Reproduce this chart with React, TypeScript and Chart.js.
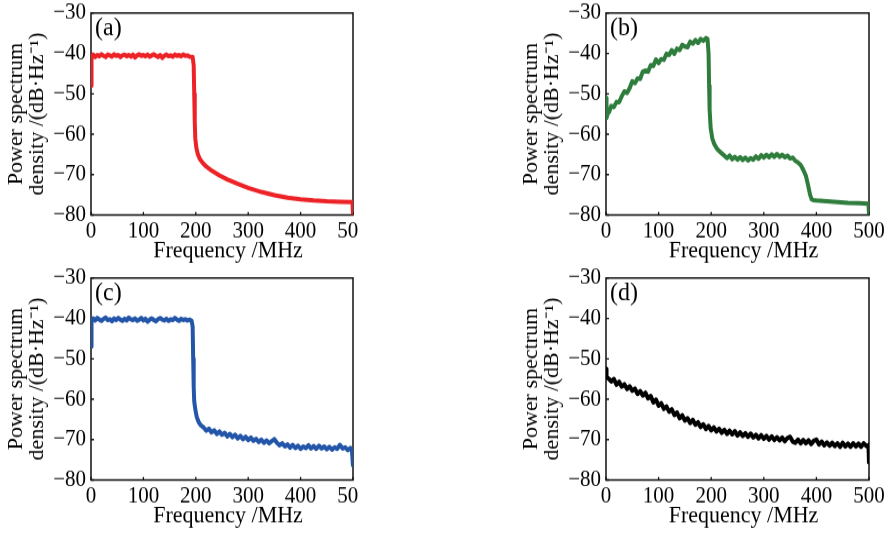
import React, { useEffect, useRef } from "react";
import { Chart, registerables } from "chart.js";

Chart.register(...registerables);

// ---------- data ----------
const X_TICKS = [0, 100, 200, 300, 400, 500];
const Y_TICKS = [-80, -70, -60, -50, -40, -30];
const X_TITLE = "Frequency /MHz";
const Y_TITLE = ["Power spectrum", "density /(dB·Hz⁻¹)"];
const TAGS = ["(a)", "(b)", "(c)", "(d)"];

const aFreq = [0, 1, 4, 8, 12, 16, 20, 24, 28, 32, 36, 40, 44, 48, 52, 56, 60, 64, 68, 72, 76, 80, 84, 88, 92, 96, 100, 104, 108, 112, 116, 120, 124, 128, 132, 136, 140, 144, 148, 152, 156, 160, 164, 168, 172, 176, 180, 184, 188, 192, 194, 196, 197, 198, 199, 201, 204, 208, 213, 220, 230, 245, 260, 280, 300, 325, 350, 375, 400, 425, 450, 475, 499, 500];
const aPsd = [-48, -40.8, -40.3, -40.9, -40.4, -40.7, -40.2, -40.6, -40.9, -40.3, -40.5, -40.8, -40.2, -40.6, -40.4, -40.9, -40.5, -40.3, -40.7, -40.4, -40.8, -40.3, -41.0, -40.5, -40.2, -40.6, -40.4, -40.7, -40.3, -40.8, -40.5, -40.2, -40.6, -40.9, -40.4, -41.1, -40.6, -40.3, -40.7, -40.5, -40.8, -40.3, -40.6, -40.4, -40.7, -40.3, -40.6, -40.5, -40.8, -40.9, -40.9, -43, -50, -57, -61, -63.3, -65, -66.2, -67.1, -68.0, -69.0, -70.2, -71.2, -72.3, -73.3, -74.3, -75.1, -75.7, -76.1, -76.4, -76.6, -76.7, -76.8, -80];

const bFreq = [0, 1, 3, 6, 10, 15, 20, 25, 30, 35, 40, 45, 50, 55, 60, 65, 70, 75, 80, 85, 90, 95, 100, 105, 110, 115, 120, 125, 130, 135, 140, 145, 150, 155, 160, 165, 170, 175, 180, 185, 190, 193, 195, 196, 197, 199, 202, 206, 211, 217, 224, 230, 235, 240, 245, 250, 255, 260, 265, 270, 275, 280, 285, 290, 295, 300, 305, 310, 315, 320, 325, 330, 335, 340, 345, 350, 355, 360, 365, 370, 375, 380, 384, 388, 391, 394, 400, 420, 440, 460, 480, 499, 500];
const bPsd = [-51, -56, -55.0, -54.5, -53.0, -53.3, -52.0, -52.1, -50.6, -49.4, -49.8, -48.6, -46.9, -47.4, -46.2, -46.3, -44.5, -44.2, -44.5, -42.9, -43.1, -41.5, -42.4, -41.4, -41.6, -40.1, -40.4, -39.2, -40.1, -38.8, -39.2, -37.9, -38.3, -38.5, -37.1, -37.6, -36.7, -37.4, -36.4, -36.9, -36.2, -36.4, -40, -48, -54, -58.5, -61, -62.5, -63.6, -64.4, -65.2, -65.9, -65.3, -66.2, -65.6, -66.3, -65.7, -66.4, -65.8, -66.5, -65.9, -66.3, -65.5, -66.1, -65.2, -65.8, -65.1, -65.7, -65.0, -65.6, -64.9, -65.6, -65.1, -65.7, -65.3, -66.0, -65.8, -66.6, -67.0, -67.6, -68.8, -70.3, -72.5, -75.0, -76.1, -76.3, -76.4, -76.6, -76.8, -77.0, -77.1, -77.2, -80];

const cFreq = [0, 1, 4, 8, 12, 16, 20, 24, 28, 32, 36, 40, 44, 48, 52, 56, 60, 64, 68, 72, 76, 80, 84, 88, 92, 96, 100, 104, 108, 112, 116, 120, 124, 128, 132, 136, 140, 144, 148, 152, 156, 160, 164, 168, 172, 176, 180, 184, 188, 192, 194, 195, 196, 197, 199, 202, 206, 210, 215, 220, 225, 230, 235, 240, 245, 250, 255, 260, 265, 270, 275, 280, 285, 290, 295, 300, 305, 310, 315, 320, 325, 330, 335, 340, 345, 350, 355, 360, 365, 370, 375, 380, 385, 390, 395, 400, 405, 410, 415, 420, 425, 430, 435, 440, 445, 450, 455, 460, 465, 470, 475, 480, 485, 490, 495, 498, 500];
const cPsd = [-47, -40.5, -40.0, -40.5, -39.9, -40.3, -40.6, -40.1, -39.8, -40.4, -40.2, -40.7, -40.0, -40.4, -39.9, -40.3, -40.6, -40.1, -40.5, -39.8, -40.2, -40.4, -40.0, -40.6, -40.3, -39.9, -40.5, -40.1, -40.8, -40.3, -40.0, -40.4, -40.7, -40.2, -39.9, -40.3, -40.5, -40.1, -40.6, -40.2, -40.4, -39.9, -40.3, -40.6, -40.1, -40.4, -40.2, -40.5, -40.3, -40.6, -42, -50, -57, -60.5, -62.5, -64.5, -65.8, -66.5, -67.0, -67.8, -67.3, -68.2, -67.7, -68.6, -68.0, -68.8, -68.3, -69.2, -68.6, -69.4, -68.8, -69.7, -69.1, -69.9, -69.3, -70.1, -69.5, -70.3, -69.8, -70.6, -70.0, -70.8, -70.2, -70.9, -70.4, -69.9, -70.8, -71.4, -70.9, -71.7, -71.2, -72.0, -71.3, -72.1, -71.5, -72.3, -71.7, -72.1, -71.4, -72.2, -71.6, -72.3, -71.5, -72.2, -71.7, -72.4, -71.8, -72.5, -71.9, -72.3, -71.3, -72.2, -71.9, -72.6, -72.1, -72.8, -76.7];

const dFreq = [0, 1, 5, 10, 15, 20, 25, 30, 35, 40, 45, 50, 55, 60, 65, 70, 75, 80, 85, 90, 95, 100, 105, 110, 115, 120, 125, 130, 135, 140, 145, 150, 155, 160, 165, 170, 175, 180, 185, 190, 195, 200, 205, 210, 215, 220, 225, 230, 235, 240, 245, 250, 255, 260, 265, 270, 275, 280, 285, 290, 295, 300, 305, 310, 315, 320, 325, 330, 335, 340, 345, 350, 355, 360, 365, 370, 375, 380, 385, 390, 395, 400, 405, 410, 415, 420, 425, 430, 435, 440, 445, 450, 455, 460, 465, 470, 475, 480, 485, 490, 495, 499, 500];
const dPsd = [-52.5, -54.5, -54.9, -55.6, -55.0, -56.4, -55.7, -56.9, -56.3, -57.5, -56.8, -57.9, -57.4, -58.7, -58.0, -59.1, -58.4, -59.8, -59.2, -60.8, -60.1, -61.6, -61.0, -62.4, -61.8, -63.1, -62.5, -63.9, -63.3, -64.7, -64.0, -65.3, -64.7, -65.9, -65.1, -66.3, -65.7, -66.9, -66.2, -67.4, -66.6, -67.7, -67.0, -68.0, -67.3, -68.3, -67.6, -68.6, -67.8, -68.7, -67.9, -69.0, -68.2, -69.1, -68.4, -69.3, -68.5, -69.5, -68.8, -69.7, -68.9, -69.8, -69.1, -70.0, -69.2, -70.1, -69.4, -70.2, -69.5, -70.4, -69.6, -69.3, -70.5, -70.8, -70.0, -70.9, -70.1, -70.9, -70.2, -71.1, -70.3, -70.0, -71.2, -70.5, -71.4, -70.7, -71.5, -70.8, -71.6, -70.9, -71.8, -70.8, -71.7, -71.0, -71.8, -70.9, -71.7, -71.0, -71.8, -70.9, -71.6, -71.4, -76.0];

const COLORS = ["#ec2227", "#2f7d3d", "#2356a8", "#000000"];

// ---------- rendering ----------
const FONT = '"Liberation Serif", "Times New Roman", serif';
const INNER_H = 241;
const K = 265 / INNER_H; // slight vertical stretch of the reference picture
const PLOT_TOP = 11.8;
const PLOT_BOTTOM = 195.5;
const Y_AXIS_W = 91;

const minusLabel = (v: number) => (v < 0 ? "\u2212" + Math.abs(v) : String(v));

function makeOverlay(tag: string) {
  return {
    id: "overlay",
    beforeDatasetsDraw(chart: any) {
      const { ctx, chartArea, scales } = chart;
      const { left, right, top, bottom } = chartArea;
      ctx.save();
      ctx.strokeStyle = "#111";
      ctx.lineWidth = 1.5;
      ctx.strokeRect(left, top, right - left, bottom - top);
      ctx.lineWidth = 1.3;
      ctx.beginPath();
      for (const v of X_TICKS) {
        const px = scales.x.getPixelForValue(v);
        ctx.moveTo(px, bottom);
        ctx.lineTo(px, bottom - 2.8);
      }
      for (const v of Y_TICKS) {
        const py = scales.y.getPixelForValue(v);
        ctx.moveTo(left, py);
        ctx.lineTo(left + 3, py);
      }
      ctx.stroke();
      ctx.fillStyle = "#000";
      ctx.textBaseline = "middle";
      ctx.textAlign = "left";
      ctx.font = `24px ${FONT}`;
      ctx.fillText(tag, left + 4, top + 14);
      ctx.textAlign = "center";
      ctx.font = `22px ${FONT}`;
      ctx.fillText(X_TITLE, (left + right) / 2 + 6, chart.height - 12.5);
      ctx.restore();
    },
  };
}

type PanelProps = {
  x: number;
  y: number;
  width: number;
  rightPad: number;
  freq: number[];
  psd: number[];
  color: string;
  tag: string;
};

function Panel({ x, y, width, rightPad, freq, psd, color, tag }: PanelProps) {
  const ref = useRef<HTMLCanvasElement>(null);
  useEffect(() => {
    const canvas = ref.current!;
    const chart = new Chart(canvas, {
      type: "line",
      data: {
        datasets: [
          {
            data: freq.map((f, i) => ({ x: f, y: psd[i] })),
            borderColor: color,
            borderWidth: 4,
            pointRadius: 0,
            tension: 0,
            fill: false,
            borderJoinStyle: "round",
            borderCapStyle: "butt",
          },
        ],
      },
      options: {
        animation: false,
        responsive: false,
        devicePixelRatio: 1,
        events: [],
        layout: { padding: { left: 0, top: PLOT_TOP, right: rightPad, bottom: 0 } },
        plugins: { legend: { display: false }, tooltip: { enabled: false } },
        scales: {
          x: {
            type: "linear",
            min: 0,
            max: 500,
            afterBuildTicks: (s: any) => {
              s.ticks = X_TICKS.map((v) => ({ value: v }));
            },
            grid: { display: false, drawTicks: false },
            border: { display: false },
            ticks: {
              color: "#000",
              padding: 4,
              maxRotation: 0,
              autoSkip: false,
              font: { family: FONT, size: 21, lineHeight: 1.0 },
              callback: (v: any) => String(v),
            },
            title: { display: false },
            afterFit: (s: any) => {
              s.height = INNER_H - PLOT_BOTTOM;
              s.paddingLeft = 0;
              s.paddingRight = 0;
            },
          },
          y: {
            type: "linear",
            min: -80,
            max: -30,
            afterBuildTicks: (s: any) => {
              s.ticks = Y_TICKS.map((v) => ({ value: v }));
            },
            grid: { display: false, drawTicks: false },
            border: { display: false },
            ticks: {
              color: "#000",
              padding: 5,
              autoSkip: false,
              font: { family: FONT, size: 21, lineHeight: 1.0 },
              callback: (v: any) => minusLabel(Number(v)),
            },
            title: {
              display: true,
              text: Y_TITLE,
              color: "#000",
              font: { family: FONT, size: 20, lineHeight: 1.05 },
              padding: { top: 6, bottom: 0 },
            },
            afterFit: (s: any) => {
              s.width = Y_AXIS_W;
              s.paddingTop = 0;
              s.paddingBottom = 0;
            },
          },
        },
      },
      plugins: [makeOverlay(tag)],
    } as any);
    return () => chart.destroy();
  }, []);
  return (
    <canvas
      ref={ref}
      width={width}
      height={INNER_H}
      style={{
        position: "absolute",
        left: x,
        top: y,
        width: width,
        height: INNER_H,
        transform: `scaleY(${K})`,
        transformOrigin: "0 0",
      }}
    />
  );
}

export default function App() {
  return (
    <div
      style={{
        position: "fixed",
        left: 0,
        top: 0,
        width: 889,
        height: 533,
        background: "#fff",
        overflow: "hidden",
      }}
    >
      <Panel x={0} y={0} width={358} rightPad={5} freq={aFreq} psd={aPsd} color={COLORS[0]} tag={TAGS[0]} />
      <Panel x={515} y={0} width={374} rightPad={20} freq={bFreq} psd={bPsd} color={COLORS[1]} tag={TAGS[1]} />
      <Panel x={0} y={265} width={358} rightPad={5} freq={cFreq} psd={cPsd} color={COLORS[2]} tag={TAGS[2]} />
      <Panel x={515} y={265} width={374} rightPad={20} freq={dFreq} psd={dPsd} color={COLORS[3]} tag={TAGS[3]} />
    </div>
  );
}
